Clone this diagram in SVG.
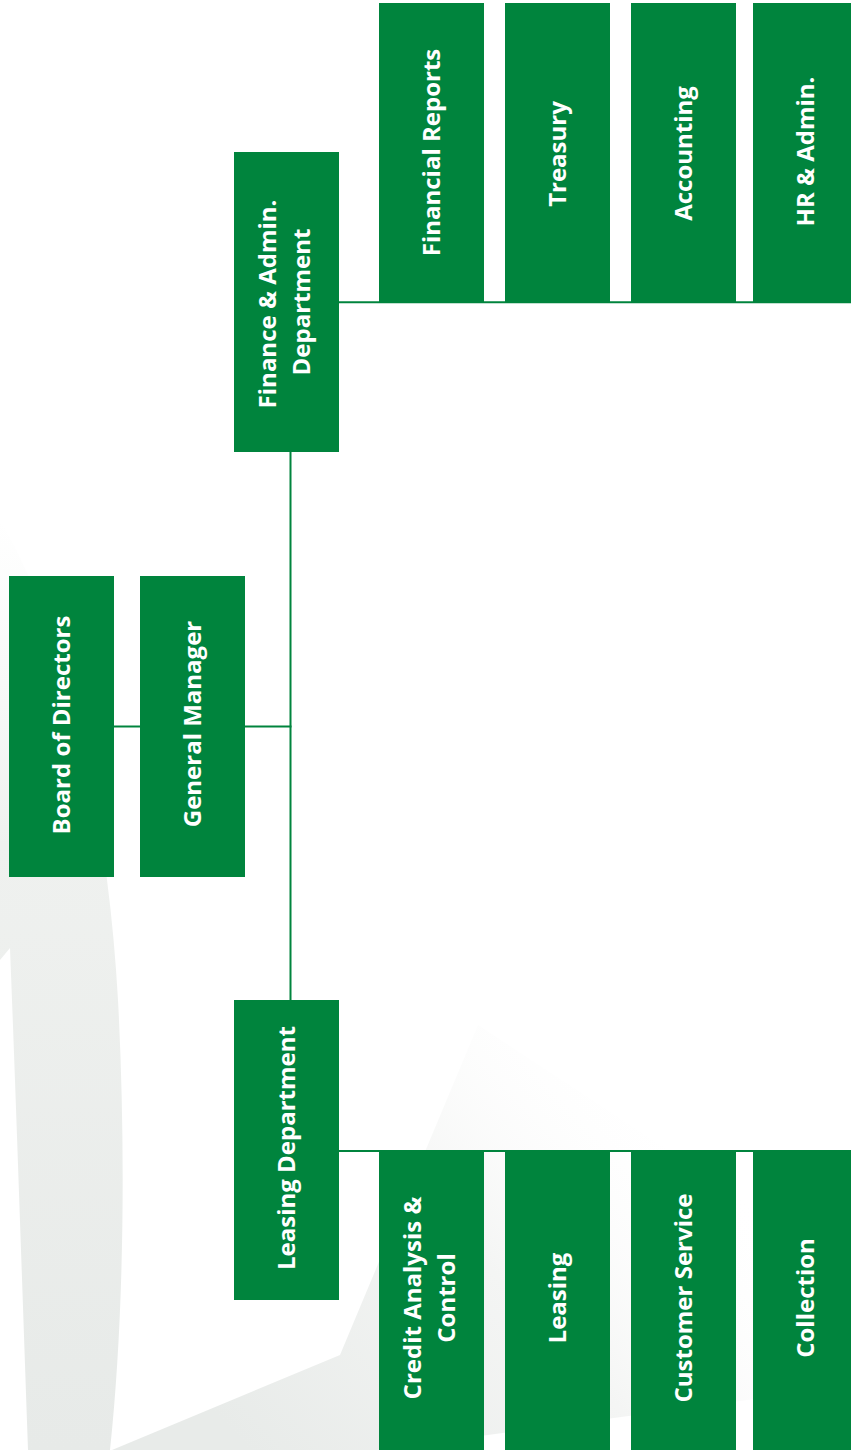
<svg xmlns="http://www.w3.org/2000/svg" width="851" height="1450" viewBox="0 0 851 1450">
  <defs>
    <style>
      .box { fill: #00843D; }
      .lbl { fill: #ffffff; font-family: "Open Sans", "Noto Sans", "Liberation Sans", sans-serif; font-weight: 700; font-size: 24px; text-anchor: middle; }
      .link { stroke: #00843D; stroke-width: 2; fill: none; }
    </style>
    <linearGradient id="bandFade" x1="0" y1="520" x2="0" y2="1450" gradientUnits="userSpaceOnUse">
      <stop offset="0" stop-color="#f3f5f3" stop-opacity="0"/>
      <stop offset="0.35" stop-color="#eff1ef"/>
      <stop offset="1" stop-color="#e7eae8"/>
    </linearGradient>
    <linearGradient id="wedgeFade" x1="250" y1="1450" x2="650" y2="1080" gradientUnits="userSpaceOnUse">
      <stop offset="0" stop-color="#e8ebe9"/>
      <stop offset="0.55" stop-color="#f4f5f4"/>
      <stop offset="1" stop-color="#ffffff" stop-opacity="0"/>
    </linearGradient>
  </defs>

  <rect width="851" height="1450" fill="#ffffff"/>

  <!-- faint background emblem -->
  <g id="emblem">
    <path d="M0,520 C70,640 108,820 118,1000 C126,1150 124,1320 110,1450 L28,1450 C22,1280 16,1100 10,948 L0,960 Z" fill="url(#bandFade)"/>
    <path d="M478,1025 L340,1355 L112,1450 L377,1450 L851,1386 L851,1270 Z" fill="url(#wedgeFade)"/>
  </g>

  <!-- connectors -->
  <g id="connectors">
    <line class="link" x1="114" y1="726.5" x2="140" y2="726.5"/>
    <line class="link" x1="245" y1="726.5" x2="291.5" y2="726.5"/>
    <line class="link" x1="290.5" y1="452" x2="290.5" y2="1000"/>
    <line class="link" x1="339" y1="302.3" x2="851" y2="302.3"/>
    <line class="link" x1="339" y1="1151" x2="851" y2="1151"/>
  </g>

  <!-- top management -->
  <g id="board">
    <rect class="box" x="9" y="576" width="105" height="301"/>
    <text class="lbl" transform="translate(69.5,725) rotate(-90)">Board of Directors</text>
  </g>
  <g id="general-manager">
    <rect class="box" x="140" y="576" width="105" height="301"/>
    <text class="lbl" transform="translate(200.5,724) rotate(-90)">General Manager</text>
  </g>

  <!-- departments -->
  <g id="finance-admin">
    <rect class="box" x="234" y="152" width="105" height="300"/>
    <text class="lbl" transform="translate(275.5,304) rotate(-90)">Finance &amp; Admin.</text>
    <text class="lbl" transform="translate(309.5,302) rotate(-90)">Department</text>
  </g>
  <g id="leasing-department">
    <rect class="box" x="234" y="1000" width="105" height="300"/>
    <text class="lbl" transform="translate(294.5,1148) rotate(-90)">Leasing Department</text>
  </g>

  <!-- finance & admin units -->
  <g id="financial-reports">
    <rect class="box" x="379" y="3" width="105" height="300"/>
    <text class="lbl" transform="translate(439.5,152.5) rotate(-90)">Financial Reports</text>
  </g>
  <g id="treasury">
    <rect class="box" x="505" y="3" width="105" height="300"/>
    <text class="lbl" transform="translate(565.5,154) rotate(-90)">Treasury</text>
  </g>
  <g id="accounting">
    <rect class="box" x="631" y="3" width="105" height="300"/>
    <text class="lbl" transform="translate(691.5,153.5) rotate(-90)">Accounting</text>
  </g>
  <g id="hr-admin">
    <rect class="box" x="753" y="3" width="105" height="300"/>
    <text class="lbl" transform="translate(813.5,151.5) rotate(-90)">HR &amp; Admin.</text>
  </g>

  <!-- leasing units -->
  <g id="credit-analysis">
    <rect class="box" x="379" y="1152" width="105" height="300"/>
    <text class="lbl" transform="translate(420.5,1298) rotate(-90)">Credit Analysis &amp;</text>
    <text class="lbl" transform="translate(454.5,1298) rotate(-90)">Control</text>
  </g>
  <g id="leasing">
    <rect class="box" x="505" y="1152" width="105" height="300"/>
    <text class="lbl" transform="translate(565.5,1298) rotate(-90)">Leasing</text>
  </g>
  <g id="customer-service">
    <rect class="box" x="631" y="1152" width="105" height="300"/>
    <text class="lbl" transform="translate(691.5,1298) rotate(-90)">Customer Service</text>
  </g>
  <g id="collection">
    <rect class="box" x="753" y="1152" width="105" height="300"/>
    <text class="lbl" transform="translate(813.5,1298) rotate(-90)">Collection</text>
  </g>
</svg>
